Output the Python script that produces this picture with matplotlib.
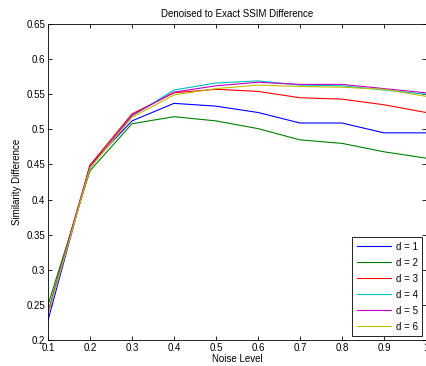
import numpy as np
import matplotlib
matplotlib.use('Agg')
from matplotlib import pyplot as plt

# noise levels on the x axis
noise = [0.1, 0.2, 0.3, 0.4, 0.5, 0.6, 0.7, 0.8, 0.9, 1.0]

# similarity difference for each d
d1 = [0.228, 0.449, 0.512, 0.537, 0.533, 0.524, 0.509, 0.509, 0.495, 0.495]
d2 = [0.250, 0.441, 0.508, 0.518, 0.512, 0.501, 0.485, 0.480, 0.468, 0.459]
d3 = [0.240, 0.449, 0.522, 0.552, 0.557, 0.554, 0.545, 0.543, 0.535, 0.524]
d4 = [0.240, 0.445, 0.519, 0.556, 0.566, 0.569, 0.563, 0.562, 0.556, 0.550]
d5 = [0.238, 0.446, 0.520, 0.553, 0.562, 0.567, 0.564, 0.564, 0.558, 0.552]
d6 = [0.236, 0.445, 0.517, 0.549, 0.558, 0.563, 0.561, 0.560, 0.557, 0.547]

series = [d1, d2, d3, d4, d5, d6]
labels = ['d = 1', 'd = 2', 'd = 3', 'd = 4', 'd = 5', 'd = 6']
colours = ['#0000ff', '#008000', '#ff0000', '#00bfbf', '#bf00bf', '#bfbf00']

plt.rcParams['font.family'] = ['Liberation Sans', 'DejaVu Sans']
plt.rcParams['font.size'] = 7

fig = plt.figure(figsize=(4.27, 3.66), dpi=100)
ax = fig.add_axes([48 / 427, 1 - 340 / 366, 378 / 427, 316 / 366])

for vals, lab, col in zip(series, labels, colours):
    ax.plot(noise, vals, color=col, lw=0.8, label=lab)

ax.set_xlim(0.1, 1.0)
ax.set_ylim(0.2, 0.65)
xt = np.arange(1, 11) / 10
ax.set_xticks(xt)
ax.set_xticklabels(['%g' % v for v in xt])
yt = np.arange(4, 14) * 0.05
ax.set_yticks(yt)
ax.set_yticklabels(['%g' % round(v, 2) for v in yt])
ax.tick_params(direction='in', top=True, right=True, length=3, width=0.6, labelsize=7, pad=2)
for s in ax.spines.values():
    s.set_linewidth(0.6)

ax.set_xlabel('Noise Level', fontsize=7, labelpad=1)
ax.set_ylabel('Similarity Difference', fontsize=7, labelpad=3)
ax.set_title('Denoised to Exact SSIM Difference', fontsize=7, pad=5)

leg = ax.legend(loc='lower right', fontsize=7, fancybox=False, framealpha=1,
                edgecolor='black', handlelength=3.5, handletextpad=0.5,
                labelspacing=0.62, borderaxespad=0.4, borderpad=0.45)
leg.get_frame().set_linewidth(0.6)

fig.savefig('out.png', dpi=100)
